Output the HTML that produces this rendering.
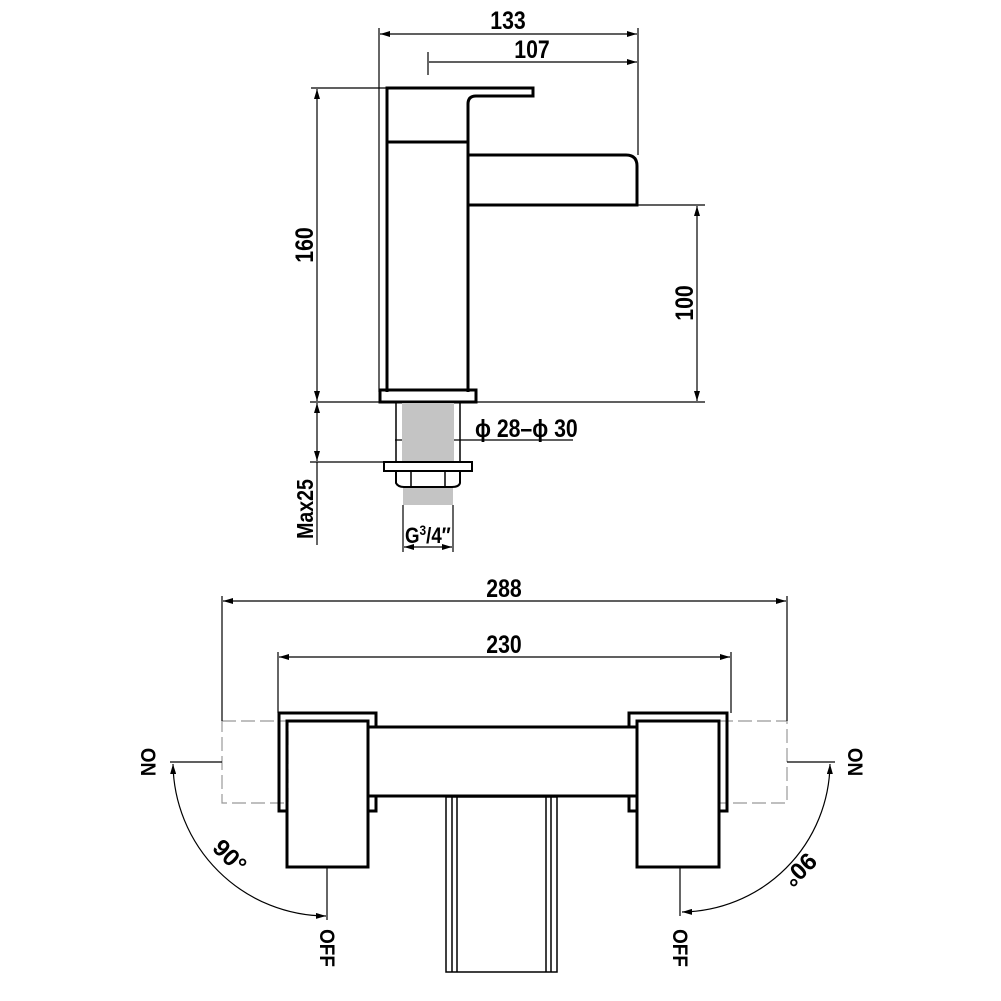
<!DOCTYPE html>
<html><head><meta charset="utf-8"><style>
html,body{margin:0;padding:0;background:#fff}
svg{display:block}
text{font-family:"Liberation Sans",sans-serif;font-weight:bold;fill:#000}
</style></head><body>
<svg width="1001" height="1001" viewBox="0 0 1001 1001" xmlns="http://www.w3.org/2000/svg">
<defs>
<marker id="a" viewBox="0 0 10 6" refX="10" refY="3" markerWidth="10" markerHeight="6" orient="auto-start-reverse" markerUnits="userSpaceOnUse"><path d="M0,0 L10,3 L0,6 z" fill="#000"/></marker>
</defs>
<g fill="none" stroke="#000" stroke-width="1.2">
<line x1="379" y1="28" x2="379" y2="392"/>
<line x1="638" y1="28" x2="638" y2="155"/>
<line x1="380" y1="34" x2="637" y2="34" marker-start="url(#a)" marker-end="url(#a)"/>
<line x1="428" y1="52" x2="428" y2="75"/>
<line x1="429" y1="62" x2="637" y2="62" marker-end="url(#a)"/>
<line x1="311" y1="88" x2="387" y2="88"/>
<line x1="317" y1="89" x2="317" y2="401" marker-start="url(#a)" marker-end="url(#a)"/>
<line x1="310" y1="402" x2="705" y2="402"/>
<line x1="637" y1="205" x2="705" y2="205"/>
<line x1="697" y1="206" x2="697" y2="401" marker-start="url(#a)" marker-end="url(#a)"/>
<line x1="310" y1="462" x2="385" y2="462"/>
<line x1="317" y1="403" x2="317" y2="461" marker-start="url(#a)" marker-end="url(#a)"/>
<line x1="317" y1="462" x2="317" y2="545"/>
<line x1="395" y1="440" x2="573" y2="440"/>
<line x1="403" y1="505" x2="403" y2="552"/>
<line x1="453" y1="505" x2="453" y2="552"/>
<line x1="404" y1="547" x2="452" y2="547" marker-start="url(#a)" marker-end="url(#a)"/>
</g>
<g fill="none" stroke="#000" stroke-width="3">
<path d="M387,392 L387,88 L533,88 L533,96 L476,96 Q468,96 468,104 L468,392"/>
<line x1="387" y1="142" x2="468" y2="142"/>
<path d="M468,155 L626,155 Q637,155 637,166 L637,205 L468,205"/>
<rect x="380" y="390" width="96" height="12"/>
</g>
<rect x="402" y="403" width="52" height="58" fill="#c4c4c4"/>
<rect x="403" y="487" width="50" height="18" fill="#c4c4c4"/>
<g fill="none" stroke="#000" stroke-width="1.5">
<line x1="396" y1="402" x2="396" y2="462"/>
<line x1="460" y1="402" x2="460" y2="462"/>
<rect x="384" y="462" width="88" height="9" stroke-width="2"/>
<path d="M396,472 L396,483 Q398,487 404,487 L452,487 Q459,487 460,483 L460,472" stroke-width="2"/>
<line x1="411" y1="472" x2="411" y2="487"/>
<line x1="445" y1="472" x2="445" y2="487"/>
</g>
<g fill="none" stroke="#999" stroke-width="1.2" stroke-dasharray="14,5">
<rect x="222" y="721" width="66" height="82"/>
<rect x="719" y="721" width="68" height="82"/>
</g>
<g fill="none" stroke="#000" stroke-width="1.2">
<line x1="222" y1="596" x2="222" y2="721"/>
<line x1="787" y1="596" x2="787" y2="721"/>
<line x1="223" y1="601" x2="786" y2="601" marker-start="url(#a)" marker-end="url(#a)"/>
<line x1="278" y1="652" x2="278" y2="713"/>
<line x1="731" y1="652" x2="731" y2="713"/>
<line x1="279" y1="657" x2="730" y2="657" marker-start="url(#a)" marker-end="url(#a)"/>
<line x1="170" y1="762" x2="222" y2="762"/>
<line x1="787" y1="762" x2="835" y2="762"/>
<line x1="327" y1="867" x2="327" y2="920"/>
<line x1="680" y1="867" x2="680" y2="916"/>
<path d="M173,764 A154,154 0 0 0 326,916" marker-start="url(#a)" marker-end="url(#a)"/>
<path d="M830,764 A150,150 0 0 1 682,912" marker-start="url(#a)" marker-end="url(#a)"/>
</g>
<g fill="none" stroke="#000" stroke-width="3">
<path d="M376,727 L376,713 L279,713 L279,811 L287,811"/>
<path d="M368,796 L376,796 L376,811 L368,811"/>
<rect x="287" y="721" width="81" height="146"/>
<path d="M629,727 L629,713 L727,713 L727,811 L719,811"/>
<path d="M637,796 L629,796 L629,811 L637,811"/>
<rect x="637" y="721" width="82" height="146"/>
<line x1="368" y1="727" x2="637" y2="727"/>
<line x1="376" y1="796" x2="629" y2="796"/>
</g>
<g fill="none" stroke="#000" stroke-width="1.5">
<rect x="446" y="797" width="111" height="175"/>
<line x1="452" y1="797" x2="452" y2="972"/>
<line x1="457" y1="797" x2="457" y2="972"/>
<line x1="551" y1="797" x2="551" y2="972"/>
<line x1="546" y1="797" x2="546" y2="972"/>
</g>
<text x="508" y="29" font-size="25" text-anchor="middle" transform="translate(508 0) scale(0.85 1) translate(-508 0)">133</text>
<text x="532" y="58" font-size="25" text-anchor="middle" transform="translate(532 0) scale(0.85 1) translate(-532 0)">107</text>
<text font-size="25" text-anchor="middle" transform="translate(313 245) rotate(-90) scale(0.85 1)">160</text>
<text font-size="25" text-anchor="middle" transform="translate(693 303) rotate(-90) scale(0.85 1)">100</text>
<text font-size="23" text-anchor="middle" transform="translate(313 509) rotate(-90) scale(0.85 1)">Max25</text>
<text x="475" y="437" font-size="25" transform="translate(475 0) scale(0.85 1) translate(-475 0)">ϕ 28–ϕ 30</text>
<text x="405" y="543" font-size="22" transform="translate(405 0) scale(0.85 1) translate(-405 0)">G<tspan font-size="14" dy="-8">3</tspan><tspan dy="8">/4″</tspan></text>
<text x="504" y="597" font-size="25" text-anchor="middle" transform="translate(504 0) scale(0.85 1) translate(-504 0)">288</text>
<text x="504" y="653" font-size="25" text-anchor="middle" transform="translate(504 0) scale(0.85 1) translate(-504 0)">230</text>
<text font-size="21" text-anchor="middle" transform="translate(141 762) rotate(90) scale(0.9 1)">ON</text>
<text font-size="21" text-anchor="middle" transform="translate(848 762) rotate(90) scale(0.9 1)">ON</text>
<text font-size="21" text-anchor="middle" transform="translate(320 948) rotate(90) scale(0.9 1)">OFF</text>
<text font-size="21" text-anchor="middle" transform="translate(673 948) rotate(90) scale(0.9 1)">OFF</text>
<text font-size="24" text-anchor="middle" transform="translate(224 862) rotate(45)">90°</text>
<text font-size="24" text-anchor="middle" transform="translate(794 864) rotate(135)">90°</text>
</svg>
</body></html>
